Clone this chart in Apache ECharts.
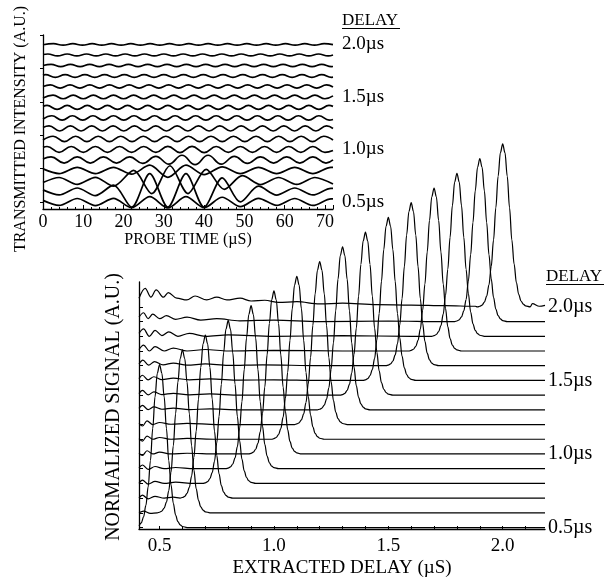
<!DOCTYPE html>
<html><head><meta charset="utf-8">
<script src="https://cdn.jsdelivr.net/npm/echarts@6/dist/echarts.min.js"></script>
<style>html,body{margin:0;padding:0;background:#fff}#c{width:613px;height:585px}</style>
</head><body><div id="c"></div>
<script>
// ---------- shared values ----------
const delays = [0.5,0.6,0.7,0.8,0.9,1.0,1.1,1.2,1.3,1.4,1.5,1.6,1.7,1.8,1.9,2.0];
const delayLabels = [0.5,1.0,1.5,2.0];
const probeTickLabels = [0,10,20,30,40,50,60,70];
const extractedTickLabels = [0.5,1.0,1.5,2.0];
const extractedMinorTicks = [0.5,0.6,0.7,0.8,0.9,1.0,1.1,1.2,1.3,1.4,1.5,1.6,1.7,1.8,1.9,2.0,2.1];
const intensityTicks = [0.5,0.82,1.14,1.45,1.77,2.09];

// ---------- top panel: transmitted intensity traces [probe time, offset from delay baseline] ----------
const probe_05 = [[0,0.015],[4,-0.033],[8.5,0.033],[13,-0.035],[17.5,0.035],[22,-0.055],[26.5,0.05],[31,-0.057],[35.5,0.05],[40,-0.055],[44.5,0.045],[49,-0.045],[53.5,0.035],[58,-0.033],[62.5,0.033],[67,-0.033],[71.5,0.03],[72,0.029]];
const probe_06 = [[0,0.015],[4,-0.033],[8.5,0.033],[13,-0.04],[17.5,0.06],[22,-0.15],[26.5,0.17],[31,-0.15],[35.5,0.17],[40,-0.15],[44.5,0.13],[49,-0.1],[53.5,0.05],[58,-0.035],[62.5,0.033],[67,-0.033],[71.5,0.03],[72,0.029]];
const probe_07 = [[0,-0.015],[4,0.033],[8.5,-0.033],[13,0.035],[17.5,-0.05],[22.5,0.1],[27,-0.12],[31.5,0.145],[36,-0.12],[40.5,0.11],[45,-0.08],[49.5,0.05],[54,-0.035],[58.5,0.033],[63,-0.033],[67.5,0.033],[72,-0.03]];
const probe_08 = [[0,0.015],[4,-0.03],[8.5,0.03],[13,-0.03],[17.5,0.03],[22,-0.035],[26.5,0.05],[31,-0.065],[35.5,0.05],[40,-0.04],[44.5,0.035],[49,-0.03],[53.5,0.03],[58,-0.03],[62.5,0.03],[67,-0.03],[71.5,0.03],[72,0.029]];
const probe_09 = [[0,0.01],[2,0.03],[5.25,-0.03],[8.5,0.03],[11.75,-0.03],[15,0.03],[18.25,-0.03],[21.5,0.03],[24.75,-0.032],[28,0.035],[31.25,-0.04],[34.5,0.045],[37.75,-0.045],[41,0.045],[44.25,-0.04],[47.5,0.035],[50.75,-0.032],[54,0.03],[57.25,-0.03],[60.5,0.03],[63.75,-0.03],[67,0.03],[70.25,-0.03],[72,0]];
const probe_10 = [[0,0.02],[1,0.028],[4,-0.028],[7,0.028],[10,-0.028],[13,0.028],[16,-0.028],[19,0.028],[22,-0.028],[25,0.028],[28,-0.028],[31,0.03],[34,-0.03],[37,0.03],[40,-0.03],[43,0.028],[46,-0.028],[49,0.028],[52,-0.028],[55,0.028],[58,-0.028],[61,0.028],[64,-0.028],[67,0.028],[70,-0.028],[72,-0.01]];
const probe_11 = [[0,-0.01],[2.5,0.026],[5.3,-0.026],[8.1,0.026],[10.9,-0.026],[13.7,0.026],[16.5,-0.026],[19.3,0.026],[22.1,-0.026],[24.9,0.026],[27.7,-0.026],[30.5,0.026],[33.3,-0.026],[36.1,0.026],[38.9,-0.026],[41.7,0.026],[44.5,-0.026],[47.3,0.026],[50.1,-0.026],[52.9,0.026],[55.7,-0.026],[58.5,0.026],[61.3,-0.026],[64.1,0.026],[66.9,-0.026],[69.7,0.026],[72,-0.01]];
const probe_12 = [[0,0.01],[1.5,0.024],[4.15,-0.024],[6.8,0.024],[9.45,-0.024],[12.1,0.024],[14.75,-0.024],[17.4,0.024],[20.05,-0.024],[22.7,0.024],[25.35,-0.024],[28,0.024],[30.65,-0.024],[33.3,0.024],[35.95,-0.024],[38.6,0.024],[41.25,-0.024],[43.9,0.024],[46.55,-0.024],[49.2,0.024],[51.85,-0.024],[54.5,0.024],[57.15,-0.024],[59.8,0.024],[62.45,-0.024],[65.1,0.024],[67.75,-0.024],[70.4,0.024],[72,0]];
const probe_13 = [[0,-0.01],[2.2,0.021],[4.75,-0.021],[7.3,0.021],[9.85,-0.021],[12.4,0.021],[14.95,-0.021],[17.5,0.021],[20.05,-0.021],[22.6,0.021],[25.15,-0.021],[27.7,0.021],[30.25,-0.021],[32.8,0.021],[35.35,-0.021],[37.9,0.021],[40.45,-0.021],[43,0.021],[45.55,-0.021],[48.1,0.021],[50.65,-0.021],[53.2,0.021],[55.75,-0.021],[58.3,0.021],[60.85,-0.021],[63.4,0.021],[65.95,-0.021],[68.5,0.021],[71.05,-0.021],[72,-0.015]];
const probe_14 = [[0,0.01],[1,0.019],[3.5,-0.019],[6,0.019],[8.5,-0.019],[11,0.019],[13.5,-0.019],[16,0.019],[18.5,-0.019],[21,0.019],[23.5,-0.019],[26,0.019],[28.5,-0.019],[31,0.019],[33.5,-0.019],[36,0.019],[38.5,-0.019],[41,0.019],[43.5,-0.019],[46,0.019],[48.5,-0.019],[51,0.019],[53.5,-0.019],[56,0.019],[58.5,-0.019],[61,0.019],[63.5,-0.019],[66,0.019],[68.5,-0.019],[71,0.019],[72,0.01]];
const probe_15 = [[0,-0.01],[2.5,0.017],[5,-0.017],[7.5,0.017],[10,-0.017],[12.5,0.017],[15,-0.017],[17.5,0.017],[20,-0.017],[22.5,0.017],[25,-0.017],[27.5,0.017],[30,-0.017],[32.5,0.017],[35,-0.017],[37.5,0.017],[40,-0.017],[42.5,0.017],[45,-0.017],[47.5,0.017],[50,-0.017],[52.5,0.017],[55,-0.017],[57.5,0.017],[60,-0.017],[62.5,0.017],[65,-0.017],[67.5,0.017],[70,-0.017],[72,0.01]];
const probe_16 = [[0,0],[1.8,0.015],[4.25,-0.015],[6.7,0.015],[9.15,-0.015],[11.6,0.015],[14.05,-0.015],[16.5,0.015],[18.95,-0.015],[21.4,0.015],[23.85,-0.015],[26.3,0.015],[28.75,-0.015],[31.2,0.015],[33.65,-0.015],[36.1,0.015],[38.55,-0.015],[41,0.015],[43.45,-0.015],[45.9,0.015],[48.35,-0.015],[50.8,0.015],[53.25,-0.015],[55.7,0.015],[58.15,-0.015],[60.6,0.015],[63.05,-0.015],[65.5,0.015],[67.95,-0.015],[70.4,0.015],[72,-0.005]];
const probe_17 = [[0,0.008],[0.6,0.013],[3.05,-0.013],[5.5,0.013],[7.95,-0.013],[10.4,0.013],[12.85,-0.013],[15.3,0.013],[17.75,-0.013],[20.2,0.013],[22.65,-0.013],[25.1,0.013],[27.55,-0.013],[30,0.013],[32.45,-0.013],[34.9,0.013],[37.35,-0.013],[39.8,0.013],[42.25,-0.013],[44.7,0.013],[47.15,-0.013],[49.6,0.013],[52.05,-0.013],[54.5,0.013],[56.95,-0.013],[59.4,0.013],[61.85,-0.013],[64.3,0.013],[66.75,-0.013],[69.2,0.013],[71.65,-0.013],[72,-0.012]];
const probe_18 = [[0,0],[2,0.011],[4.4,-0.011],[6.8,0.011],[9.2,-0.011],[11.6,0.011],[14,-0.011],[16.4,0.011],[18.8,-0.011],[21.2,0.011],[23.6,-0.011],[26,0.011],[28.4,-0.011],[30.8,0.011],[33.2,-0.011],[35.6,0.011],[38,-0.011],[40.4,0.011],[42.8,-0.011],[45.2,0.011],[47.6,-0.011],[50,0.011],[52.4,-0.011],[54.8,0.011],[57.2,-0.011],[59.6,0.011],[62,-0.011],[64.4,0.011],[66.8,-0.011],[69.2,0.011],[71.6,-0.011],[72,-0.01]];
const probe_19 = [[0,0.004],[1.2,0.009],[3.6,-0.009],[6,0.009],[8.4,-0.009],[10.8,0.009],[13.2,-0.009],[15.6,0.009],[18,-0.009],[20.4,0.009],[22.8,-0.009],[25.2,0.009],[27.6,-0.009],[30,0.009],[32.4,-0.009],[34.8,0.009],[37.2,-0.009],[39.6,0.009],[42,-0.009],[44.4,0.009],[46.8,-0.009],[49.2,0.009],[51.6,-0.009],[54,0.009],[56.4,-0.009],[58.8,0.009],[61.2,-0.009],[63.6,0.009],[66,-0.009],[68.4,0.009],[70.8,-0.009],[72,0]];
const probe_20 = [[0,-0.003],[2.6,0.007],[5,-0.007],[7.4,0.007],[9.8,-0.007],[12.2,0.007],[14.6,-0.007],[17,0.007],[19.4,-0.007],[21.8,0.007],[24.2,-0.007],[26.6,0.007],[29,-0.007],[31.4,0.007],[33.8,-0.007],[36.2,0.007],[38.6,-0.007],[41,0.007],[43.4,-0.007],[45.8,0.007],[48.2,-0.007],[50.6,0.007],[53,-0.007],[55.4,0.007],[57.8,-0.007],[60.2,0.007],[62.6,-0.007],[65,0.007],[67.4,-0.007],[69.8,0.007],[72,-0.002]];

// ---------- bottom panel: normalized signal ----------
// peak profile: [offset from delay, height above baseline]
const peakShape = [[-0.11,0],[-0.1,0.004],[-0.09,0.012],[-0.08,0.032],[-0.07,0.073],[-0.06,0.15],[-0.05,0.276],[-0.04,0.455],[-0.03,0.673],[-0.02,0.888],[-0.01,1.048],[0,1.108],[0.01,1.048],[0.02,0.888],[0.03,0.673],[0.04,0.455],[0.05,0.29],[0.06,0.165],[0.07,0.085],[0.08,0.04],[0.09,0.018],[0.1,0.007],[0.12,0]];
// ringing before the peak: [extracted delay, offset]
const ring_05 = [];
const ring_06 = [[0.41,0],[0.43,0.012],[0.46,-0.004],[0.49,0.006]];
const ring_07 = [[0.41,0],[0.425,0.02],[0.45,-0.005],[0.48,0.012],[0.52,0],[0.56,0.006]];
const ring_08 = [[0.41,0],[0.425,0.022],[0.45,-0.005],[0.48,0.014],[0.52,0],[0.57,0.008],[0.65,0]];
const ring_09 = [[0.41,0.005],[0.425,0.025],[0.45,-0.005],[0.48,0.015],[0.52,0],[0.57,0.008],[0.65,0]];
const ring_10 = [[0.41,0.005],[0.425,-0.01],[0.445,0.022],[0.47,0],[0.5,0.012],[0.55,0],[0.62,0.005],[0.75,0]];
const ring_11 = [[0.41,0.005],[0.425,-0.012],[0.445,0.022],[0.47,0],[0.5,0.012],[0.55,0],[0.62,0.006],[0.75,0]];
const ring_12 = [[0.41,0.008],[0.425,-0.01],[0.445,0.025],[0.47,0],[0.5,0.014],[0.55,0.002],[0.62,0.008],[0.75,0]];
const ring_13 = [[0.41,0.01],[0.425,0.03],[0.45,0.002],[0.475,0.02],[0.51,0.004],[0.56,0.012],[0.63,0.002],[0.72,0.006],[0.85,0]];
const ring_14 = [[0.41,0.01],[0.425,0.032],[0.45,0.002],[0.475,0.022],[0.51,0.004],[0.56,0.012],[0.63,0.002],[0.72,0.008],[0.85,0]];
const ring_15 = [[0.41,0.012],[0.425,0.035],[0.45,0.004],[0.475,0.025],[0.51,0.005],[0.56,0.015],[0.63,0.004],[0.72,0.01],[0.85,0.002],[1,0.004],[1.2,0]];
const ring_16 = [[0.41,0.012],[0.427,0.038],[0.452,0.004],[0.478,0.028],[0.515,0.006],[0.56,0.018],[0.62,0.004],[0.7,0.012],[0.8,0.002],[0.95,0.006],[1.2,0]];
const ring_17 = [[0.41,0.01],[0.43,0.04],[0.455,0],[0.48,0.03],[0.52,0],[0.56,0.02],[0.62,0],[0.7,0.01],[0.8,0],[1.0,0.004],[1.3,0]];
const ring_18 = [[0.41,0.02],[0.43,0.05],[0.455,0],[0.48,0.04],[0.51,0.005],[0.54,0.03],[0.58,0],[0.63,0.02],[0.7,0],[0.8,0.01],[1.0,0],[1.3,0.004],[1.6,0]];
const ring_19 = [[0.41,0.03],[0.43,0.06],[0.45,0.02],[0.47,0.05],[0.5,0.02],[0.53,0.04],[0.57,0.015],[0.62,0.03],[0.68,0.01],[0.75,0.02],[0.85,0.005],[1.0,0.01],[1.2,0],[1.5,0.004],[1.75,0]];
const ring_20 = [[0.41,0.059],[0.437,0.126],[0.462,0.066],[0.485,0.115],[0.517,0.066],[0.538,0.097],[0.575,0.059],[0.619,0.047],[0.655,0.074],[0.706,0.047],[0.75,0.066],[0.794,0.047],[0.852,0.059],[0.9,0.04],[0.96,0.045],[1.02,0.03],[1.1,0.035],[1.2,0.02],[1.3,0.025],[1.45,0.015],[1.6,0.012],[1.75,0.008],[1.88,0.004]];
// level after the peak: [extracted delay, offset]
const tailFlat = [[2.185,0]];
const tail_20 = [[2.13,0.022],[2.16,0.004],[2.185,0.01]];

const probeTraces = [probe_05,probe_06,probe_07,probe_08,probe_09,probe_10,probe_11,probe_12,probe_13,probe_14,probe_15,probe_16,probe_17,probe_18,probe_19,probe_20];
const rings = [ring_05,ring_06,ring_07,ring_08,ring_09,ring_10,ring_11,ring_12,ring_13,ring_14,ring_15,ring_16,ring_17,ring_18,ring_19,ring_20];
const tails = [tailFlat,tailFlat,tailFlat,tailFlat,tailFlat,tailFlat,tailFlat,tailFlat,tailFlat,tailFlat,tailFlat,tailFlat,tailFlat,tailFlat,tailFlat,tail_20];

// ---------- build ----------
const FONT = 'Liberation Serif';
const X_MIN_BOTTOM = 0.41, X_MAX_BOTTOM = 2.185;
const series = [];
delays.forEach((d, i) => {
  series.push({
    type: 'line', xAxisIndex: 0, yAxisIndex: 0, showSymbol: false, smooth: i < 4 ? 0.3 : 0.45,
    silent: true, animation: false,
    lineStyle: { color: '#000', width: 1.7 },
    data: probeTraces[i].map(([x, dy]) => [x, d + dy])
  });
});
delays.forEach((d, i) => {
  const pts = [];
  rings[i].forEach(([x, dy]) => { if (x < d - 0.11) pts.push([x, d + dy]); });
  peakShape.forEach(([dx, dy]) => {
    const x = Math.round((d + dx) * 1000) / 1000;
    if (x >= X_MIN_BOTTOM) pts.push([x, d + dy]);
  });
  tails[i].forEach(([x, dy]) => { if (x > d + 0.12) pts.push([x, d + dy]); });
  series.push({
    type: 'line', xAxisIndex: 1, yAxisIndex: 2, showSymbol: false, smooth: 0.35, smoothMonotone: 'x',
    silent: true, animation: false, clip: false,
    lineStyle: { color: '#000', width: 1.2 },
    data: pts
  });
});

const chart = echarts.init(document.getElementById('c'), null, { renderer: 'canvas' });
chart.setOption({
  backgroundColor: '#fff',
  animation: false,
  grid: [
    { left: 43, top: 35, width: 290, height: 174 },
    { left: 139, top: 282, width: 406, height: 247 }
  ],
  xAxis: [
    {
      gridIndex: 0, type: 'value', min: 0, max: 72, interval: 10,
      name: 'PROBE TIME (\u00B5S)', nameLocation: 'middle', nameGap: 22,
      nameTextStyle: { fontFamily: FONT, fontSize: 16, color: '#000' },
      axisLine: { lineStyle: { color: '#000', width: 1.3 } },
      axisTick: { inside: true, length: 4, lineStyle: { color: '#000' } },
      minorTick: { show: true, splitNumber: 5, length: 2, lineStyle: { color: '#000' } },
      axisLabel: { fontFamily: FONT, fontSize: 18, color: '#000', margin: 4, customValues: probeTickLabels },
      splitLine: { show: false }
    },
    {
      gridIndex: 1, type: 'value', min: X_MIN_BOTTOM, max: X_MAX_BOTTOM,
      name: 'EXTRACTED DELAY (\u00B5S)', nameLocation: 'middle', nameGap: 30,
      nameTextStyle: { fontFamily: FONT, fontSize: 19, color: '#000' },
      axisLine: { lineStyle: { color: '#000', width: 1.3 } },
      axisTick: { inside: true, length: 3, customValues: extractedMinorTicks, lineStyle: { color: '#000' } },
      axisLabel: { fontFamily: FONT, fontSize: 19, color: '#000', margin: 8,
        customValues: extractedTickLabels, formatter: v => v.toFixed(1) },
      splitLine: { show: false }
    }
  ],
  yAxis: [
    {
      gridIndex: 0, type: 'value', min: 0.433, max: 2.09,
      axisLine: { show: true, lineStyle: { color: '#000', width: 1.3 } },
      axisTick: { show: true, inside: false, length: 3, customValues: intensityTicks, lineStyle: { color: '#000' } },
      axisLabel: { show: false },
      splitLine: { show: false }
    },
    {
      gridIndex: 0, type: 'value', min: 0.433, max: 2.09, position: 'right',
      axisLine: { show: false }, axisTick: { show: false }, splitLine: { show: false },
      axisLabel: { fontFamily: FONT, fontSize: 19, color: '#000', margin: 9,
        customValues: delayLabels, formatter: v => v.toFixed(1) + '\u00B5s' }
    },
    {
      gridIndex: 1, type: 'value', min: 0.49, max: 2.169,
      axisLine: { show: true, lineStyle: { color: '#000', width: 1.3 } },
      axisTick: { show: true, inside: true, length: 4, customValues: delays, lineStyle: { color: '#000' } },
      axisLabel: { show: false },
      splitLine: { show: false }
    },
    {
      gridIndex: 1, type: 'value', min: 0.49, max: 2.169, position: 'right',
      axisLine: { show: false }, axisTick: { show: false }, splitLine: { show: false },
      axisLabel: { fontFamily: FONT, fontSize: 20, color: '#000', margin: 3,
        customValues: delayLabels, formatter: v => v.toFixed(1) + '\u00B5s' }
    }
  ],
  graphic: [
    { type: 'text', x: 21, y: 129, rotation: Math.PI / 2, silent: true,
      style: { text: 'TRANSMITTED INTENSITY (A.U.)', font: '16px "Liberation Serif"', fill: '#000', textAlign: 'center', textVerticalAlign: 'middle' } },
    { type: 'text', x: 114, y: 407, rotation: Math.PI / 2, silent: true,
      style: { text: 'NORMALIZED SIGNAL (A.U.)', font: '20px "Liberation Serif"', fill: '#000', textAlign: 'center', textVerticalAlign: 'middle' } },
    { type: 'text', x: 342, y: 21, silent: true,
      style: { text: 'DELAY', font: '17px "Liberation Serif"', fill: '#000', textAlign: 'left', textVerticalAlign: 'middle' } },
    { type: 'line', silent: true, shape: { x1: 342, y1: 28.5, x2: 400, y2: 28.5 }, style: { stroke: '#000', lineWidth: 1 } },
    { type: 'text', x: 546, y: 277, silent: true,
      style: { text: 'DELAY', font: '17px "Liberation Serif"', fill: '#000', textAlign: 'left', textVerticalAlign: 'middle' } },
    { type: 'line', silent: true, shape: { x1: 546, y1: 284.5, x2: 604, y2: 284.5 }, style: { stroke: '#000', lineWidth: 1 } }
  ],
  series: series
});
</script>
</body></html>
